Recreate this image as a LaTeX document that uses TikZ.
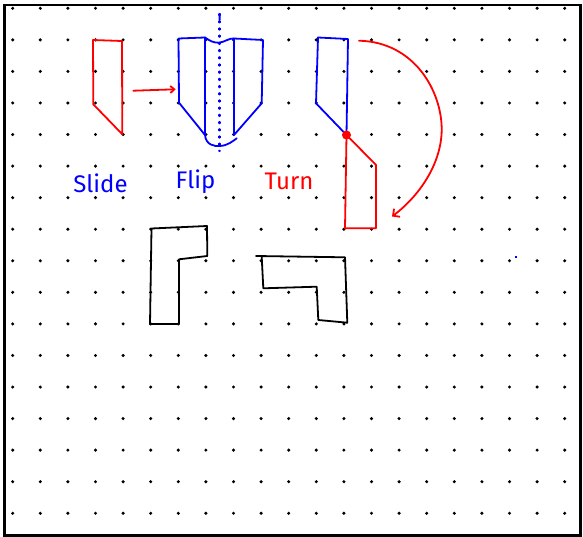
\documentclass[tikz,border=0pt]{standalone}
\usepackage{fontspec}
\setmainfont{Fira Sans}
\usetikzlibrary{arrows.meta}
\definecolor{pblue}{RGB}{0,0,255}
\definecolor{pred}{RGB}{255,0,0}
\tikzset{
  pen/.style={line width=1.8pt,line join=round,line cap=round},
  redpen/.style={pen,draw=pred},
  bluepen/.style={pen,draw=pblue},
  blackpen/.style={pen,draw=black},
  gdot/.style={fill=black},
  label/.style={inner sep=0pt,font=\fontsize{24}{26}\selectfont}
}
\begin{document}
\begin{tikzpicture}[x=1pt,y=-1pt]
\useasboundingbox (0,0) rectangle (583,537);
\fill[white] (0,0) rectangle (583,537);
% dot grid
\foreach \i in {0,...,20}{
  \foreach \j in {0,...,16}{
    \fill[gdot] ({12.7+27.6*\i},{8.3+31.56*\j}) circle (1.7);
  }
}
% frame
\draw[line width=2.5pt] (4.5,5) rectangle (580.5,535.5);

% Slide shape
\draw[redpen] (93,40) -- (122,41) -- (122.3,134.3) -- (93.3,104.3) -- cycle;
\coordinate (sa) at (133.3,90.7);
\coordinate (sb) at (175.7,89.3);
\draw[redpen,-{Straight Barb[length=4pt,width=7pt]}] (sa) -- (sb);

% Flip shape
\draw[bluepen] (205,37.5) -- (178.5,38.5) -- (179,102.7) -- (205,135);
\draw[bluepen] (205,37.5) -- (205,135);
\draw[bluepen] (234,38.5) -- (263,40) -- (261.7,103.3) -- (234,135) -- cycle;
\draw[bluepen] (205,37.5) .. controls (210,41) and (214,43) .. (219,42.7) .. controls (225,42) and (229,38) .. (234,38.5);
\draw[bluepen] (205,135) .. controls (206,145) and (214,146.5) .. (220,146) .. controls (228,145.5) and (233,141) .. (236.7,138.3);
\draw[pblue,line width=2.2pt,line cap=round,dash pattern=on 1.2pt off 6pt] (219.5,14) -- (219.5,151);
\draw[pblue,line width=2pt,line cap=round] (219.8,14) -- (219.5,20);

% Turn shape
\draw[bluepen] (318,37.5) -- (348,39) -- (346.5,135) -- (316,103.3) -- cycle;
\draw[redpen] (346.5,135) -- (376,165) -- (376,228.3) -- (345,228.3) -- (346.5,135);
\fill[pred] (346.5,135) circle (4.5);
\coordinate (ta) at (359,40.7);
\coordinate (tb) at (392,216.5);
\draw[redpen,-{Straight Barb[length=5pt,width=10pt]}] (ta) .. controls (415,42) and (442,92) .. (441.7,130) .. controls (441.3,165) and (418,197) .. (tb);

% black L shapes
\draw[blackpen] (151.5,228.5) -- (207,226) -- (207.3,256) -- (179,259.3) -- (179,324) -- (150,324) -- cycle;
\draw[blackpen] (256,256) -- (345,257.3) -- (347.3,322.7) -- (318.3,320) -- (316.7,286.7) -- (263.3,288.3) -- (261.7,256.7);

% stray blue dot
\fill[pblue] (515,255.7) rectangle (517.3,258);

% labels
\node[label,text=pblue] (slide) at (100.5,183) {Slide};
\node[label,text=pblue] (flip) at (195.5,182) {Flip};
\node[label,text=pred] (turn) at (289,181) {Turn};
\end{tikzpicture}
\end{document}
